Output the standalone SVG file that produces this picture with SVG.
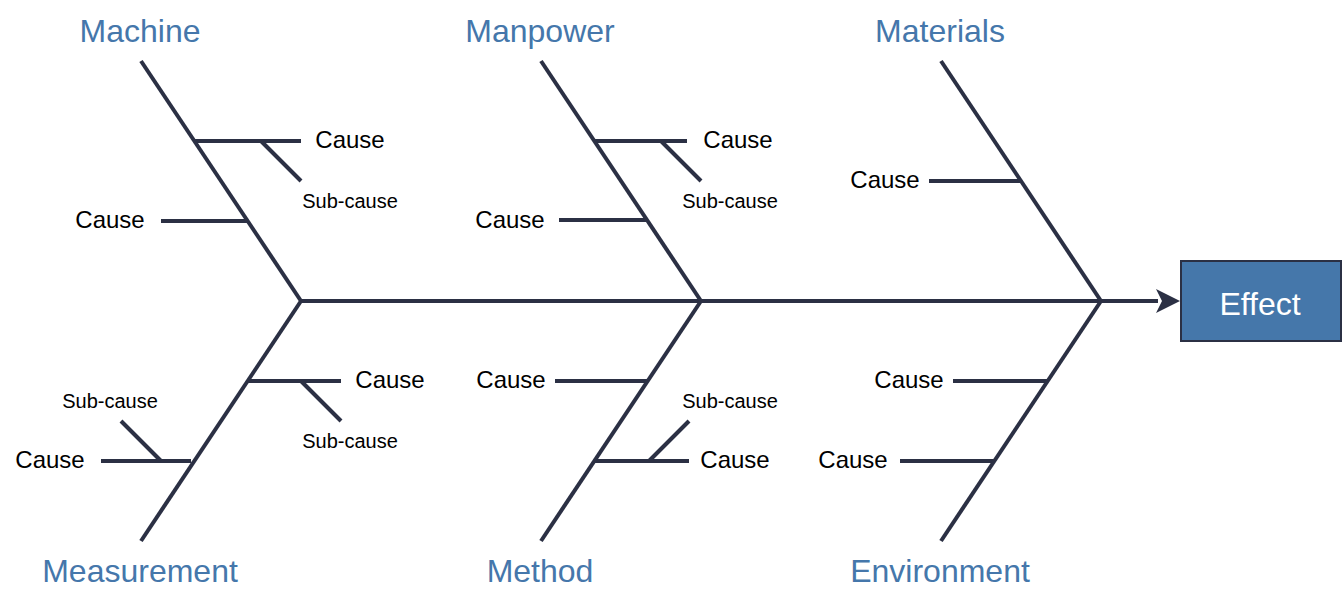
<svg xmlns="http://www.w3.org/2000/svg" width="1342" height="600" viewBox="0 0 1342 600">
<defs>
<style>
.ln{stroke:#2b3044;stroke-width:4;fill:none;stroke-linecap:butt}
.t{font-family:"Liberation Sans",Arial,sans-serif;text-anchor:middle}
.cat{font-size:32px;fill:#4577ab}
.c{font-size:24px;fill:#000}
.s{font-size:20px;fill:#000}
</style>
</defs>
<rect width="1342" height="600" fill="#fff"/>
<g id="connectors">
<line class="ln" x1="301" y1="301" x2="1158" y2="301"/>
<path d="M1156,289 L1180,301 L1156,313 L1162,301 Z" fill="#2b3044"/>
<line class="ln" x1="141" y1="61" x2="301" y2="301"/>
<line class="ln" x1="541" y1="61" x2="701" y2="301"/>
<line class="ln" x1="941" y1="61" x2="1101" y2="301"/>
<line class="ln" x1="301" y1="301" x2="141" y2="541"/>
<line class="ln" x1="701" y1="301" x2="541" y2="541"/>
<line class="ln" x1="1101" y1="301" x2="941" y2="541"/>
<line class="ln" x1="195" y1="141" x2="301" y2="141"/>
<line class="ln" x1="261" y1="141" x2="301" y2="181"/>
<line class="ln" x1="161" y1="221" x2="248" y2="221"/>
<line class="ln" x1="595" y1="141" x2="687" y2="141"/>
<line class="ln" x1="661" y1="141" x2="701" y2="181"/>
<line class="ln" x1="559" y1="220" x2="647" y2="220"/>
<line class="ln" x1="929" y1="181" x2="1021" y2="181"/>
<line class="ln" x1="247" y1="381" x2="341" y2="381"/>
<line class="ln" x1="301" y1="381" x2="341" y2="421"/>
<line class="ln" x1="101" y1="461" x2="191" y2="461"/>
<line class="ln" x1="121" y1="421" x2="161" y2="461"/>
<line class="ln" x1="555" y1="381" x2="648" y2="381"/>
<line class="ln" x1="594" y1="461" x2="689" y2="461"/>
<line class="ln" x1="649" y1="461" x2="689" y2="421"/>
<line class="ln" x1="953" y1="381" x2="1048" y2="381"/>
<line class="ln" x1="900" y1="461" x2="995" y2="461"/>
</g>
<g id="effect">
<rect x="1181" y="261" width="160" height="80" fill="#4577aa" stroke="#2b3044" stroke-width="2"/>
<text class="t" x="1260" y="315" font-size="32" fill="#fff">Effect</text>
</g>
<g id="machine">
<text class="t cat" x="140" y="41.5">Machine</text>
<text class="t c" x="350" y="148">Cause</text>
<text class="t s" x="350" y="207.5">Sub-cause</text>
<text class="t c" x="110" y="228">Cause</text>
</g>
<g id="manpower">
<text class="t cat" x="540" y="41.5">Manpower</text>
<text class="t c" x="738" y="148">Cause</text>
<text class="t s" x="730" y="207.5">Sub-cause</text>
<text class="t c" x="510" y="228">Cause</text>
</g>
<g id="materials">
<text class="t cat" x="940" y="41.5">Materials</text>
<text class="t c" x="885" y="188">Cause</text>
</g>
<g id="measurement">
<text class="t cat" x="140" y="581.5">Measurement</text>
<text class="t c" x="390" y="388">Cause</text>
<text class="t s" x="350" y="447.5">Sub-cause</text>
<text class="t s" x="110" y="407.5">Sub-cause</text>
<text class="t c" x="50" y="468">Cause</text>
</g>
<g id="method">
<text class="t cat" x="540" y="581.5">Method</text>
<text class="t c" x="511" y="388">Cause</text>
<text class="t s" x="730" y="407.5">Sub-cause</text>
<text class="t c" x="735" y="468">Cause</text>
</g>
<g id="environment">
<text class="t cat" x="940" y="581.5">Environment</text>
<text class="t c" x="909" y="388">Cause</text>
<text class="t c" x="853" y="468">Cause</text>
</g>
</svg>
